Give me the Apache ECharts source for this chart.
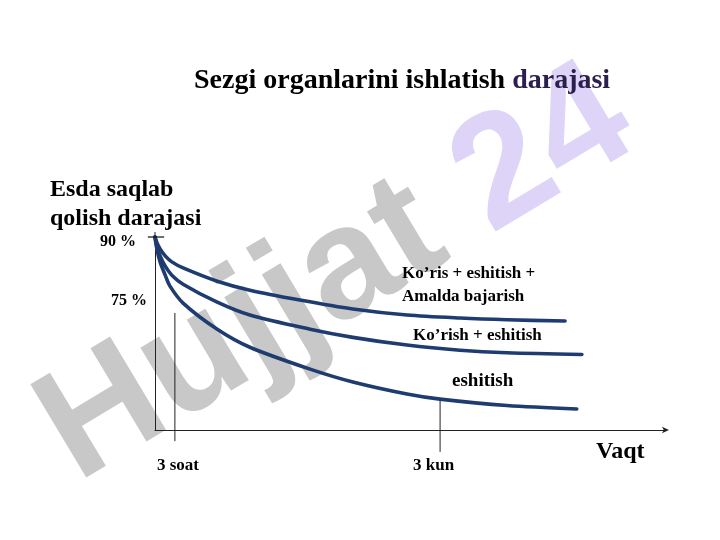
<!DOCTYPE html>
<html>
<head>
<meta charset="utf-8">
<script src="https://cdn.jsdelivr.net/npm/echarts@6/dist/echarts.min.js"></script>
<style>html,body{margin:0;padding:0;background:#fff}#c{width:720px;height:540px}</style>
</head>
<body>
<div id="c"></div>
<script>
// Schematic data (time in arbitrary units, retention level in %)
const titleText = 'Sezgi organlarini ishlatish ';
const titleTail = 'darajasi';
const yName = 'Esda saqlab\nqolish darajasi';
const xName = 'Vaqt';
const yTickValues = [90, 75];
const yTickLabels = ['90 %', '75 %'];
const xMarkLabels = ['3 soat', '3 kun'];
const xMarkValues = [3.9, 55.9];
const xMarkTop = [72.3, 52.2];
const xMarkBottom = [42.4, 39.9];
const seriesNames = ['Ko’ris + eshitish +\nAmalda bajarish', 'Ko’rish + eshitish', 'eshitish'];

const xTop = [0, 0.4, 1.0, 2.0, 3.3, 5.5, 12.2, 18.6, 28.4, 38.8, 49.4, 59.8, 69.0, 80.4];
const yTop = [90, 88.6, 87.2, 85.6, 84.2, 82.8, 79.7, 77.6, 75.3, 73.2, 71.8, 71.1, 70.7, 70.4];
const xMid = [0, 0.4, 1.0, 2.0, 3.3, 5.5, 12.2, 18.6, 30.4, 38.8, 49.4, 59.8, 69.0, 83.7];
const yMid = [90, 87.7, 85.6, 83.2, 81.1, 79.0, 74.8, 71.8, 68.5, 66.6, 64.8, 63.6, 63.0, 62.6];
const xLow = [0, 0.4, 1.0, 2.0, 2.9, 5.5, 12.2, 18.6, 30.4, 38.8, 49.4, 55.9, 69.0, 82.7];
const yLow = [90, 87.0, 84.2, 81.1, 78.6, 74.6, 68.5, 64.3, 59.2, 56.2, 53.4, 52.2, 50.7, 49.9];
const crossX = [-1.4, 1.8];

const zip = (xs, ys) => xs.map((x, i) => [x, ys[i]]);
const serif = '"Liberation Serif", "Times New Roman", serif';
const navy = '#1f3c70';

function curve(name, xs, ys) {
  return {
    name: name, type: 'line', data: zip(xs, ys), smooth: 0.3,
    showSymbol: false, symbol: 'none', silent: true, clip: false,
    lineStyle: { color: navy, width: 3.6, cap: 'round', join: 'round' }, z: 3
  };
}
function vline(i) {
  return {
    type: 'line', data: [[xMarkValues[i], xMarkTop[i]], [xMarkValues[i], xMarkBottom[i]]],
    showSymbol: false, symbol: 'none', clip: false, silent: true,
    lineStyle: { color: '#222', width: 1 }, z: 2
  };
}

const chart = echarts.init(document.getElementById('c'), null, { renderer: 'canvas' });
chart.setOption({
  backgroundColor: '#fff',
  animation: false,
  title: {
    text: '{a|' + titleText + '}{b|' + titleTail + '}',
    left: 189, top: 62,
    textStyle: {
      rich: {
        a: { fontFamily: serif, fontWeight: 'bold', fontSize: 28, color: '#000' },
        b: { fontFamily: serif, fontWeight: 'bold', fontSize: 28, color: '#2c1f4e' }
      }
    }
  },
  grid: { left: 155, right: 55, top: 237, bottom: 110 },
  xAxis: {
    type: 'value', min: 0, max: 100,
    axisLine: { show: true, symbol: ['none', 'arrow'], symbolSize: [5, 7], symbolOffset: [0, 4],
      lineStyle: { color: '#222', width: 1 } },
    axisTick: { show: false }, axisLabel: { show: false }, splitLine: { show: false }
  },
  yAxis: {
    type: 'value', min: 45, max: 90,
    axisLine: { show: true, lineStyle: { color: '#222', width: 1 } },
    axisTick: { show: false },
    axisLabel: {
      show: true, customValues: yTickValues, margin: 8,
      formatter: function (v) {
        const i = yTickValues.indexOf(v);
        return i === 0 ? '{p|' + yTickLabels[i] + '}' : '{q|' + yTickLabels[i] + '}';
      },
      rich: {
        p: { fontFamily: serif, fontWeight: 'bold', fontSize: 16, color: '#000', padding: [10, 11, 0, 0] },
        q: { fontFamily: serif, fontWeight: 'bold', fontSize: 16, color: '#000', padding: [0, 0, 0, 0] }
      }
    },
    splitLine: { show: false }
  },
  graphic: [
    {
      id: 'wm', type: 'text', z: -10, x: 337, y: 276, rotation: 31 * Math.PI / 180,
      style: {
        text: '{g|Hujjat }{v|24}', align: 'center', verticalAlign: 'middle',
        rich: {
          g: { fontFamily: '"Liberation Sans", Arial, sans-serif', fontWeight: 'bold', fontSize: 158, fill: '#c8c8c8' },
          v: { fontFamily: '"Liberation Sans", Arial, sans-serif', fontWeight: 'bold', fontSize: 158, fill: '#ddd4f8' }
        }
      }
    },
    {
      id: 'yname', type: 'text', left: 50, top: 175, z: 10,
      style: { text: yName, fontFamily: serif, fontWeight: 'bold', fontSize: 24, lineHeight: 29, fill: '#000',
        textShadowColor: '#9a9a9a', textShadowOffsetX: 2, textShadowOffsetY: 2, textShadowBlur: 0 }
    },
    {
      id: 'xname', type: 'text', left: 596, top: 440, z: 10,
      style: { text: xName, fontFamily: serif, fontWeight: 'bold', fontSize: 24, fill: '#000',
        textShadowColor: '#9a9a9a', textShadowOffsetX: 2, textShadowOffsetY: 2, textShadowBlur: 0 }
    },
    {
      id: 's0', type: 'text', left: 402, top: 262, z: 10,
      style: { text: seriesNames[0], fontFamily: serif, fontWeight: 'bold', fontSize: 17, lineHeight: 23, fill: '#000' }
    },
    {
      id: 's1', type: 'text', left: 413, top: 327, z: 10,
      style: { text: seriesNames[1], fontFamily: serif, fontWeight: 'bold', fontSize: 17, fill: '#000' }
    },
    {
      id: 's2', type: 'text', left: 452, top: 372, z: 10,
      style: { text: seriesNames[2], fontFamily: serif, fontWeight: 'bold', fontSize: 19, fill: '#000' }
    },
    {
      id: 'm0', type: 'text', left: 157, top: 457, z: 10,
      style: { text: xMarkLabels[0], fontFamily: serif, fontWeight: 'bold', fontSize: 17, fill: '#000' }
    },
    {
      id: 'm1', type: 'text', left: 413, top: 457, z: 10,
      style: { text: xMarkLabels[1], fontFamily: serif, fontWeight: 'bold', fontSize: 17, fill: '#000' }
    }
  ],
  series: [
    curve(seriesNames[0], xTop, yTop),
    curve(seriesNames[1], xMid, yMid),
    curve(seriesNames[2], xLow, yLow),
    vline(0),
    vline(1)
  ]
});
// tick cross at 90 %, placed through the axis scales
const pA = chart.convertToPixel({ gridIndex: 0 }, [crossX[0], yTickValues[0]]);
const pB = chart.convertToPixel({ gridIndex: 0 }, [crossX[1], yTickValues[0]]);
const pTop = chart.convertToPixel({ gridIndex: 0 }, [0, yTickValues[0]]);
chart.setOption({
  graphic: [
    { id: 'cross', type: 'line', z: 20, shape: { x1: pA[0], y1: pA[1], x2: pB[0], y2: pB[1] },
      style: { stroke: '#111', lineWidth: 1.2 } },
    { id: 'yext', type: 'line', z: 20, shape: { x1: pTop[0], y1: pTop[1], x2: pTop[0], y2: pTop[1] - 5 },
      style: { stroke: '#222', lineWidth: 1 } }
  ]
});
</script>
</body>
</html>
